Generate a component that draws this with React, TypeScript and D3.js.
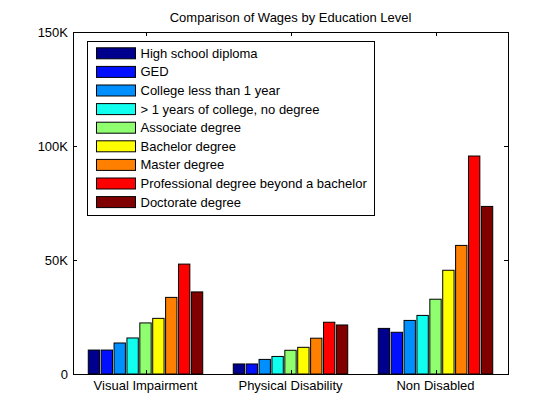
import React, { useEffect, useRef } from "react";
import * as d3 from "d3";

const groups = ["Visual Impairment", "Physical Disability", "Non Disabled"];
const levels = [
  "High school diploma",
  "GED",
  "College less than 1 year",
  "> 1 years of college, no degree",
  "Associate degree",
  "Bachelor degree",
  "Master degree",
  "Professional degree beyond a bachelor",
  "Doctorate degree",
];
// wages per group, one value per education level
const visualImpairment = [10500, 10500, 13600, 15800, 22400, 24400, 33600, 48200, 36000];
const physicalDisability = [4400, 4400, 6400, 7700, 10400, 11700, 15700, 22700, 21500];
const nonDisabled = [20000, 18300, 23500, 25700, 32800, 45500, 56400, 95600, 73500];
const yTicks = [0, 50000, 100000, 150000];
const yTickLabels = ["0", "50K", "100K", "150K"];
// jet colormap picks
const colors = [
  "#00008f", "#0010ff", "#008fff", "#10ffef", "#8fff70",
  "#ffff00", "#ff8000", "#ff0000", "#800000",
];

export default function App() {
  const svgRef = useRef<SVGSVGElement | null>(null);

  useEffect(() => {
    if (!svgRef.current) return;
    d3.select(svgRef.current).selectAll("*").remove();

    const svg = d3.select(svgRef.current);
    const left = 73, right = 508, top = 32, bottom = 374;
    const font = "Liberation Sans, Arial, sans-serif";
    const data = [visualImpairment, physicalDisability, nonDisabled];

    const x = d3.scaleLinear().domain([0.5, 3.5]).range([left, right]);
    const y = d3.scaleLinear().domain([0, 150000]).range([bottom, top]);

    svg.append("rect").attr("width", 560).attr("height", 420).attr("fill", "#fff");

    // bars
    const pitch = (x(1.8) - x(1)) / levels.length;
    const barW = pitch * 0.88;
    data.forEach((vals, gi) => {
      vals.forEach((v, li) => {
        const cx = x(gi + 1) + (li - (levels.length - 1) / 2) * pitch;
        svg.append("rect")
          .attr("x", cx - barW / 2)
          .attr("y", y(v))
          .attr("width", barW)
          .attr("height", y(0) - y(v))
          .attr("fill", colors[li])
          .attr("stroke", "#000")
          .attr("stroke-width", 1);
      });
    });

    // axes box
    svg.append("rect")
      .attr("x", left + 0.5).attr("y", top + 0.5)
      .attr("width", right - left).attr("height", bottom - top)
      .attr("fill", "none").attr("stroke", "#000").attr("stroke-width", 1);

    const tl = 4;
    yTicks.forEach((t, i) => {
      const ty = Math.round(y(t)) + 0.5;
      svg.append("line").attr("x1", left).attr("x2", left + tl)
        .attr("y1", ty).attr("y2", ty).attr("stroke", "#000");
      svg.append("line").attr("x1", right).attr("x2", right - tl)
        .attr("y1", ty).attr("y2", ty).attr("stroke", "#000");
      svg.append("text")
        .attr("x", left - 5).attr("y", y(t) + 4.5)
        .attr("text-anchor", "end")
        .attr("font-family", font).attr("font-size", "13px")
        .text(yTickLabels[i]);
    });

    groups.forEach((g, i) => {
      const gx = Math.round(x(i + 1)) + 0.5;
      svg.append("line").attr("x1", gx).attr("x2", gx)
        .attr("y1", bottom).attr("y2", bottom - tl).attr("stroke", "#000");
      svg.append("line").attr("x1", gx).attr("x2", gx)
        .attr("y1", top).attr("y2", top + tl).attr("stroke", "#000");
      svg.append("text")
        .attr("x", x(i + 1)).attr("y", bottom + 16)
        .attr("text-anchor", "middle")
        .attr("font-family", font).attr("font-size", "13px")
        .text(g);
    });

    svg.append("text")
      .attr("x", (left + right) / 2).attr("y", 22)
      .attr("text-anchor", "middle")
      .attr("font-family", font).attr("font-size", "13px")
      .text("Comparison of Wages by Education Level");

    // legend
    const lg = svg.append("g");
    lg.append("rect")
      .attr("x", 87.5).attr("y", 41.5).attr("width", 287).attr("height", 174)
      .attr("fill", "#fff").attr("stroke", "#000");
    levels.forEach((l, i) => {
      const cy = 53.3 + i * 18.6;
      lg.append("rect")
        .attr("x", 96.5).attr("y", cy - 5.5).attr("width", 39).attr("height", 11)
        .attr("fill", colors[i]).attr("stroke", "#000");
      lg.append("text")
        .attr("x", 140.5).attr("y", cy + 4.5)
        .attr("font-family", font).attr("font-size", "13px")
        .text(l);
    });
  }, []);

  return (
    <svg
      ref={svgRef}
      width={560}
      height={420}
      style={{ position: "absolute", left: 0, top: 0 }}
    />
  );
}
